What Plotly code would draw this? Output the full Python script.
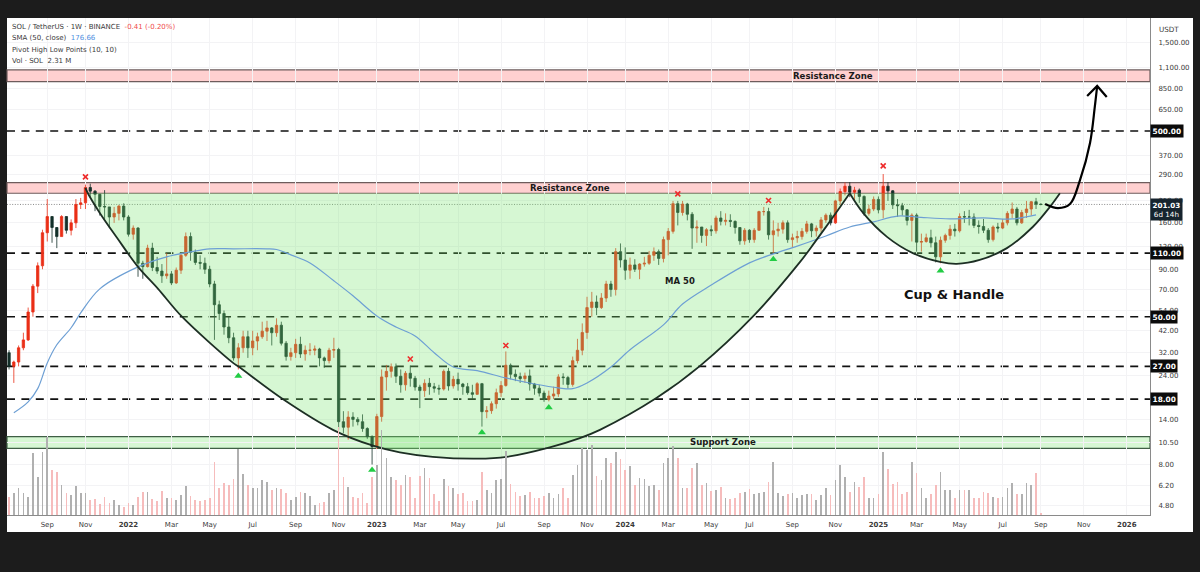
import math
import pandas as pd
import plotly.graph_objects as go

FIRST_WEEK = "2021-07-12"
FIRST_OPEN = 32

closes = [
    27, 28.5, 34, 37.5, 53, 73, 94, 141.6, 173, 151,
    135, 173, 146, 160, 201, 205, 248, 237, 228, 196,
    195, 172, 180, 197, 172, 139, 150, 97, 93, 117,
    92, 88, 83, 85, 76, 89, 107, 135, 111, 98,
    97, 90, 75, 58, 52, 44, 38.5, 30, 34, 39,
    34, 37, 39, 41.8, 43.5, 41, 45, 36, 30.5, 32,
    35.5, 31.5, 33, 33, 33.5, 30, 29, 33, 33.3, 13.6,
    12.7, 14.4, 14, 13.6, 12.5, 11.3, 10, 14.5, 23.7, 25.4,
    26.9, 23.9, 21.5, 24.8, 23.3, 20.9, 20, 21.9, 21, 20.6,
    20.4, 25.4, 21.2, 23, 21.7, 21, 19.5, 19.1, 21.8, 15.4,
    15.6, 17, 19.5, 21.3, 27.4, 24.5, 23.8, 23.2, 24, 21.7,
    20.6, 19.4, 17.9, 18.7, 19.2, 23.7, 23.5, 21.6, 29, 33,
    41.1, 56, 60, 56, 63, 75, 70, 112, 101, 89,
    95, 90, 96, 97, 107, 112, 103, 130, 144, 203,
    182, 202, 178, 150, 152, 137, 147, 145, 170, 163,
    165, 163, 151, 128, 146, 130, 146, 184, 184, 138,
    145, 148, 160, 130, 133, 135, 144, 158, 145, 150,
    166, 176, 160, 210, 236, 252, 234, 240, 222, 180,
    190, 214, 188, 252, 238, 200, 198, 188, 165, 176,
    126, 127, 133, 125, 105, 129, 137, 148, 145, 173,
    172, 172, 155, 153, 146, 130, 152, 150, 160, 180,
    190, 160, 182, 190, 208, 201.44, 201.03,
]
highs = [
    33, 29, 35, 41, 56, 75, 98, 147, 215, 172,
    152, 176, 172, 167, 215, 218, 257, 260, 240, 225,
    240, 195, 195, 200, 204, 176, 155, 152, 100, 122,
    125, 105, 96, 110, 88, 92, 110, 142, 142, 115,
    107, 104, 94, 78, 61, 54, 50, 41, 36, 42,
    42, 42, 41, 47, 47.5, 44, 49, 47, 37, 34,
    38, 39, 35, 36, 35, 34, 30.5, 34, 38.5, 34,
    15.5, 15.5, 15.3, 14.4, 14.9, 12.7, 11.5, 15, 26, 27.5,
    28, 28, 26, 25.5, 27.3, 24, 21.5, 23, 23.4, 22,
    21.5, 26, 26.5, 24, 25, 22, 22, 21.5, 22.2, 22,
    16.5, 17.5, 20.5, 22.5, 32.5, 28, 26, 25, 25, 26,
    22, 21.5, 20, 20, 21, 24.5, 24.8, 24, 30.5, 38,
    46, 64, 68, 65, 67, 78, 78, 117, 124, 118,
    104, 102, 97, 105, 113, 118, 115, 135, 150, 210,
    210, 210, 205, 183, 165, 152, 150, 155, 175, 185,
    180, 178, 165, 152, 150, 148, 150, 186, 195, 193,
    165, 160, 165, 165, 140, 145, 150, 164, 160, 155,
    172, 180, 182, 213, 245, 264, 265, 250, 245, 225,
    200, 222, 222, 293, 265, 240, 215, 205, 190, 180,
    180, 140, 140, 147, 135, 135, 140, 156, 158, 180,
    185, 188, 180, 165, 168, 150, 155, 160, 168, 185,
    206, 195, 188, 210, 210, 218, 204,
]
lows = [
    26, 22, 27, 33, 37, 50, 67, 90, 127, 125,
    117, 135, 140, 137, 150, 190, 190, 220, 185, 175,
    168, 150, 160, 165, 165, 135, 130, 82, 80, 92,
    88, 85, 76, 80, 74, 75, 85, 105, 100, 95,
    90, 85, 72, 37.5, 48, 40, 36, 29, 26, 32,
    30, 31, 33, 38, 37, 35, 39, 35, 29, 29,
    30, 30, 29, 31, 31, 27, 26.5, 28, 30, 12.3,
    11.8, 10.9, 12.8, 13, 12, 11, 8, 9.7, 13.6, 20,
    23.5, 22, 19.5, 20, 21, 20, 16.1, 18.5, 19, 19.5,
    19, 20, 20, 20.5, 20, 19, 19, 18, 19, 12.8,
    14.2, 15, 16, 18.5, 21, 23, 22.5, 22, 22, 20,
    19, 18.6, 17.4, 17.5, 18, 18.5, 21.5, 20.5, 21, 28,
    31, 38, 50, 51, 55, 60, 64, 65, 92, 79,
    80, 87, 79.6, 93, 95, 100, 95, 98, 107, 140,
    155, 175, 165, 116, 125, 125, 120, 136, 140, 155,
    155, 152, 140, 122, 122, 125, 125, 145, 175, 130,
    110, 135, 140, 125, 118, 125, 130, 140, 134, 135,
    142, 160, 155, 158, 200, 225, 220, 210, 205, 175,
    175, 185, 180, 169, 210, 190, 172, 175, 155, 127,
    112, 112, 125, 118, 98, 97, 125, 130, 135, 142,
    160, 155, 150, 140, 141, 125, 127, 142, 148, 155,
    170, 155, 158, 170, 175, 190, 199,
]
volumes = [
    53, 65, 80, 65, 55, 187, 115, 188, 235, 135,
    130, 90, 65, 60, 87, 65, 65, 45, 48, 32,
    55, 37, 45, 30, 25, 35, 30, 55, 70, 68,
    47, 42, 73, 52, 50, 45, 60, 87, 58, 45,
    42, 45, 50, 158, 80, 95, 90, 107, 197, 122,
    90, 82, 80, 105, 98, 75, 80, 78, 65, 45,
    55, 70, 65, 58, 30, 35, 40, 65, 75, 265,
    115, 85, 55, 50, 65, 35, 115, 150, 255, 172,
    115, 105,
    90, 120, 115, 52, 118, 140, 110, 62, 42, 108,
    88, 80, 62, 65, 43, 42, 45, 128, 75, 65,
    105, 107, 193, 92, 70, 58, 60, 68, 50, 50,
    58, 65, 50, 62, 80, 50, 120, 150, 200, 195,
    210, 117, 105, 172, 157, 190, 168, 135, 147, 90,
    110, 108, 88, 90, 75, 155, 172, 208, 172, 80,
    82, 140, 155, 90, 97, 72, 75, 85, 52, 48,
    50, 65, 68, 78, 62, 65, 70, 100, 160, 65,
    58, 63, 65, 50,
    60, 62, 62, 45, 60, 80, 60, 105, 150, 115,
    70, 98, 85, 115, 50, 50, 62, 188, 138, 92,
    98, 62, 70, 160, 125, 80, 52, 62, 90, 130,
    75, 75, 50, 75, 75, 75, 52, 50, 68, 65,
    55, 52, 55, 80, 97, 62, 62, 95, 90, 125, 7,
]

ma_weeks = [1, 4, 6, 8, 10, 13, 15, 19, 27, 33, 38, 42, 47, 54, 56, 59, 63, 68, 72, 77, 81,
            85, 89, 93, 98, 104, 110, 115, 118, 121, 126, 130, 137, 141, 147, 155, 160, 165,
            171, 176, 181, 186, 190, 197, 204, 210, 215]
ma_values = [15.2, 17.4, 20.5, 28.2, 35.3, 43.6, 52.4, 70.6, 92.7, 105, 111.7, 116, 116, 116,
             115, 107.6, 97.4, 78, 64.8, 50.5, 44, 39.4, 32, 26.8, 25.6, 23.4, 21.7, 20.7,
             20.5, 22, 26.8, 33.2, 45.2, 58.5, 74, 97.4, 109, 120, 136, 152, 162, 174, 172,
             168, 170, 168, 176.66]

pivot_high_weeks = [16, 84, 104, 140, 159, 183]
pivot_high_values = [283, 29.6, 35, 229, 211, 324]
pivot_low_weeks = [48, 76, 99, 113, 160, 195]
pivot_low_values = [24, 7.47, 11.9, 16.2, 102, 88.5]

cup_weeks = [16, 16.5, 19, 22.6, 27, 31.2, 36.2, 46.9, 47.9, 57.3, 67.8, 76.2, 81.8, 88.7, 98,
             104.2, 113.2, 119.5, 123.7, 135.6, 144.6, 155.7, 165.6, 168.7, 172.5, 176]
cup_values = [247, 231, 181, 133, 92.7, 70.6, 50, 28.2, 27.1, 18, 12.3, 10.1, 9.3, 8.8, 8.6,
              8.8, 9.9, 11.1, 12.3, 18.3, 27.1, 50, 98.6, 126, 172, 231]
handle_weeks = [176, 178.8, 183.8, 189.2, 194.9, 198.4, 203.2, 208.9, 214.3, 217.9, 220]
handle_values = [231, 181, 134.5, 110, 98.6, 96.2, 101, 117, 152, 195, 231]
arrow_weeks = [216.9, 219.6, 222.1, 224.2, 226.3, 227.3, 227.8]
arrow_values = [202, 192, 202, 272, 431, 673, 873]
arrow_head_weeks = [225.7, 227.8, 229.8]
arrow_head_values = [771, 873, 762]

level_lines = [500, 110, 50, 27, 18]
last_price = 201.03
resistance_zones = [(921, 1065), (231, 263.5)]
support_zone = (9.77, 11.3)

y_ticks = [1500, 1100, 850, 650, 370, 290, 210, 160, 120, 90, 70, 54, 42, 32, 24, 14, 10.5, 8, 6.2, 4.8]
x_tick_dates = ["2021-09-06", "2021-11-01", "2022-01-03", "2022-03-07", "2022-05-02", "2022-07-04",
                "2022-09-05", "2022-11-07", "2023-01-02", "2023-03-06", "2023-05-01", "2023-07-03",
                "2023-09-04", "2023-11-06", "2024-01-01", "2024-03-04", "2024-05-06", "2024-07-01",
                "2024-09-02", "2024-11-04", "2025-01-06", "2025-03-03", "2025-05-05", "2025-07-07",
                "2025-09-01", "2025-11-03", "2026-01-05"]
x_tick_text = ["Sep", "Nov", "<b>2022</b>", "Mar", "May", "Jul", "Sep", "Nov", "<b>2023</b>", "Mar",
               "May", "Jul", "Sep", "Nov", "<b>2024</b>", "Mar", "May", "Jul", "Sep", "Nov",
               "<b>2025</b>", "Mar", "May", "Jul", "Sep", "Nov", "<b>2026</b>"]

FONT = "DejaVu Sans"
PAGE = "#1c1c1c"
UP = "#ea2f17"
DOWN = "#14302a"
GREEN_FILL = "rgba(120,230,110,0.30)"
RED_FILL = "rgba(255,100,100,0.30)"
TXT = "#3a3a3a"

W, H = 1200, 572
L, R, T, B = 7, 1150, 18, 515


def px(x):
    return (x - L) / (R - L)


def py(y):
    return (B - y) / (B - T)


def when(weeks):
    return pd.Timestamp(FIRST_WEEK) + pd.to_timedelta(weeks, unit="W")


weeks_idx = list(range(len(closes)))
dates = [when(i) for i in weeks_idx]
opens = [FIRST_OPEN] + closes[:-1]
vol_colors = ["#b0b0b0" if c >= o else "#f6bcbc" for o, c in zip(opens, closes)]

fig = go.Figure()

fig.add_trace(go.Scatter(x=[when(w) for w in cup_weeks[1:]], y=cup_values[1:], mode="lines",
                         line=dict(width=0, shape="spline"), fill="toself", fillcolor=GREEN_FILL,
                         hoverinfo="skip"))
fig.add_trace(go.Scatter(x=[when(w) for w in handle_weeks], y=handle_values, mode="lines",
                         line=dict(width=0, shape="spline"), fill="toself", fillcolor=GREEN_FILL,
                         hoverinfo="skip"))
fig.add_trace(go.Bar(x=dates, y=volumes, yaxis="y2", marker=dict(color=vol_colors, line_width=0),
                     width=0.9e8, hoverinfo="skip"))
fig.add_trace(go.Candlestick(
    x=dates, open=opens, high=highs, low=lows, close=closes,
    increasing=dict(line=dict(color=UP, width=0.8), fillcolor=UP),
    decreasing=dict(line=dict(color=DOWN, width=0.8), fillcolor=DOWN),
))
fig.add_trace(go.Scatter(x=[when(w) for w in ma_weeks], y=ma_values, mode="lines",
                         line=dict(color="#6d9fd4", width=1.2, shape="spline", smoothing=1)))
for wk, vals in ((cup_weeks, cup_values), (handle_weeks, handle_values)):
    fig.add_trace(go.Scatter(x=[when(w) for w in wk], y=vals, mode="lines",
                             line=dict(color="#1d2f24", width=1.8, shape="spline")))
fig.add_trace(go.Scatter(x=[when(w) for w in arrow_weeks], y=arrow_values, mode="lines",
                         line=dict(color="#000000", width=2.2, shape="spline")))
fig.add_trace(go.Scatter(x=[when(w) for w in arrow_head_weeks], y=arrow_head_values, mode="lines",
                         line=dict(color="#000000", width=2.2)))
fig.add_trace(go.Scatter(x=[when(w) for w in pivot_high_weeks], y=pivot_high_values, mode="markers",
                         marker=dict(symbol="x-thin", size=5, line=dict(color="#ee2b2b", width=1.6))))
fig.add_trace(go.Scatter(x=[when(w) for w in pivot_low_weeks], y=pivot_low_values, mode="markers",
                         marker=dict(symbol="triangle-up", size=7, color="#22cc44")))

# white chart card goes first so everything else sits on it
fig.add_shape(type="rect", xref="paper", yref="paper", x0=0, x1=px(1193), y0=py(532), y1=1, layer="below",
              fillcolor="#ffffff", line_width=0)
for lo, hi in resistance_zones:
    fig.add_shape(type="rect", xref="paper", x0=0, x1=1, y0=lo, y1=hi, yref="y", layer="below",
                  fillcolor=RED_FILL, line=dict(color="#6e5c5c", width=1.2))
fig.add_shape(type="rect", xref="paper", x0=0, x1=1, y0=support_zone[0], y1=support_zone[1], yref="y",
              layer="below", fillcolor=GREEN_FILL, line=dict(color="#3f5f45", width=1.2))
for lvl in level_lines:
    fig.add_shape(type="line", xref="paper", x0=0, x1=1, y0=lvl, y1=lvl, yref="y", layer="below",
                  line=dict(color="#111111", width=1.6, dash="8px,6.4px"))
fig.add_shape(type="line", xref="paper", x0=0, x1=1, y0=last_price, y1=last_price, yref="y",
              layer="below", line=dict(color="#8a8a8a", width=1, dash="1px,1.6px"))


def text(x, y, s, size, color="#1a1a1a", xanchor="center"):
    fig.add_annotation(xref="paper", yref="paper", x=px(x), y=py(y), text=s, showarrow=False,
                       font=dict(family=FONT, size=size, color=color), xanchor=xanchor,
                       yanchor="middle")


text(833, 76, "<b>Resistance Zone</b>", 8.6)
text(570, 188, "<b>Resistance Zone</b>", 8.6)
text(723, 442, "<b>Support Zone</b>", 8.6)
text(680, 281, "<b>MA 50</b>", 8.5)
text(954, 294, "<b>Cup &amp; Handle</b>", 13, color="#111111")
text(1157, 29, "USDT", 7.2, color=TXT, xanchor="left")
text(10, 27, "SOL / TetherUS · 1W · BINANCE  <span style='color:#ef4a4a'>-0.41 (-0.20%)</span>", 7, color=TXT, xanchor="left")
text(10, 38, "SMA (50, close)  <span style='color:#4f8fe0'>176.66</span>", 7, color=TXT, xanchor="left")
text(10, 50, "Pivot High Low Points (10, 10)", 7, color=TXT, xanchor="left")
text(10, 61, "Vol · SOL  2.31 M", 7, color=TXT, xanchor="left")

for lvl in level_lines:
    fig.add_annotation(xref="paper", yref="y", x=1, y=math.log10(lvl),
                       text=f"<b>{lvl:.2f}</b>", showarrow=False, xanchor="left", yanchor="middle",
                       bgcolor="#0b0b0b", borderpad=1.5, font=dict(family=FONT, size=7.4, color="#ffffff"))
fig.add_annotation(xref="paper", yref="y", x=1, y=math.log10(last_price), yshift=-5,
                   text="<b>201.03</b><br>6d 14h", showarrow=False, xanchor="left", yanchor="middle",
                   bgcolor="#16242e", borderpad=1.5, font=dict(family=FONT, size=7.2, color="#ffffff"))

fig.update_layout(
    width=W, height=H,
    margin=dict(l=L, r=W - R, t=T, b=H - B, pad=0),
    paper_bgcolor=PAGE, plot_bgcolor="rgba(0,0,0,0)",
    showlegend=False, bargap=0,
    xaxis=dict(type="date", range=["2021-07-09", "2026-02-08"], rangeslider=dict(visible=False),
               tickmode="array", tickvals=x_tick_dates, ticktext=x_tick_text,
               tickfont=dict(family=FONT, size=7, color=TXT), ticks="", ticklabelstandoff=3,
               showgrid=True, gridcolor="#f3f3f5", gridwidth=1,
               showline=True, linecolor="#8a8a8a", linewidth=1, zeroline=False),
    yaxis=dict(type="log", range=[0.6314, 3.307], side="right", tickmode="array",
               tickvals=y_ticks, ticktext=[f"{v:,.2f}" for v in y_ticks],
               tickfont=dict(family=FONT, size=7, color=TXT), ticks="", ticklabelstandoff=6,
               showgrid=True, gridcolor="#f3f3f5", gridwidth=1,
               showline=True, linecolor="#8a8a8a", linewidth=1, zeroline=False),
    yaxis2=dict(overlaying="y", range=[0, 1490], visible=False, anchor="x"),
)

fig.write_html("out.html", config={"displayModeBar": False},
               post_script="document.body.style.margin='0';document.body.style.background='#1c1c1c';")
